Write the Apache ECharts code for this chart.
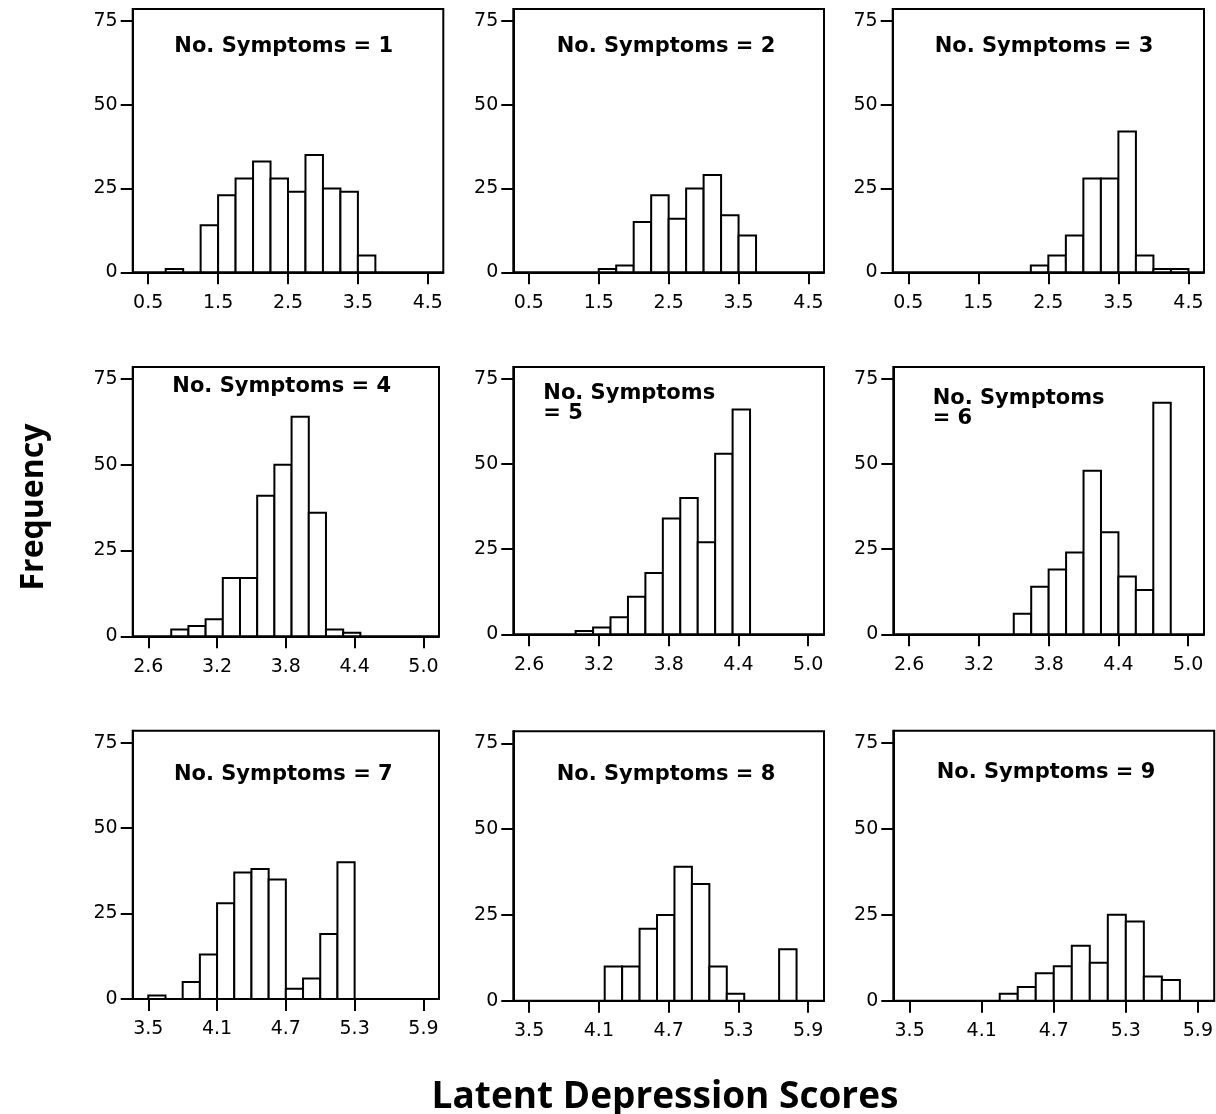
<!DOCTYPE html>
<html>
<head>
<meta charset="utf-8">
<script src="https://cdn.jsdelivr.net/npm/echarts@6/dist/echarts.min.js"></script>
<style>
  html, body { margin: 0; padding: 0; background: #fff; }
  #chart { width: 1216px; height: 1114px; }
</style>
</head>
<body>
<div id="chart"></div>
<script>
// Histogram of latent depression scores, one panel per number of symptoms.
// Each panel: first bin start, bin width, and counts per bin.
var panelTitles = [
  'No. Symptoms = 1', 'No. Symptoms = 2', 'No. Symptoms = 3',
  'No. Symptoms = 4', 'No. Symptoms\n= 5', 'No. Symptoms\n= 6',
  'No. Symptoms = 7', 'No. Symptoms = 8', 'No. Symptoms = 9'
];
var binStarts = [0.75, 1.5, 2.25, 2.8, 3.0, 3.5, 3.5, 4.15, 4.25];
var binWidths = [0.25, 0.25, 0.25, 0.15, 0.15, 0.15, 0.15, 0.15, 0.15];

var counts1 = [1, 0, 14, 23, 28, 33, 28, 24, 35, 25, 24, 5];
var counts2 = [1, 2, 15, 23, 16, 25, 29, 17, 11];
var counts3 = [2, 5, 11, 28, 28, 42, 5, 1, 1];
var counts4 = [2, 3, 5, 17, 17, 41, 50, 64, 36, 2, 1];
var counts5 = [1, 2, 5, 11, 18, 34, 40, 27, 53, 66];
var counts6 = [6, 14, 19, 24, 48, 30, 17, 13, 68];
var counts7 = [1, 0, 5, 13, 28, 37, 38, 35, 3, 6, 19, 40];
var counts8 = [10, 10, 21, 25, 39, 34, 10, 2, 0, 0, 15];
var counts9 = [2, 4, 8, 10, 16, 11, 25, 23, 7, 6];
var allCounts = [counts1, counts2, counts3, counts4, counts5, counts6, counts7, counts8, counts9];

// Tick labels on each row's x axis, and the shared frequency ticks.
var xTicksRow1 = [0.5, 1.5, 2.5, 3.5, 4.5];
var xTicksRow2 = [2.6, 3.2, 3.8, 4.4, 5.0];
var xTicksRow3 = [3.5, 4.1, 4.7, 5.3, 5.9];
var yTicks = [0, 25, 50, 75];

// Panel layout: frame edges in pixels [left, top, right, bottom].
var boxes = [
  [132.7, 9, 443.3, 272.3], [513.3, 9, 824, 272.3], [892.7, 9, 1204, 272.3],
  [132.7, 367, 439, 636.3], [513.3, 367, 824, 634.3], [893.3, 367, 1204, 634.3],
  [132.7, 730.7, 439, 999], [513.3, 731.3, 824, 1000.7], [893.3, 730.7, 1214.3, 1000.7]
];
var rowTicks = [xTicksRow1, xTicksRow2, xTicksRow3];
var rowPad = [0.222, 0.136, 0.136];
var yMax = 78.5;

// Title anchor positions and alignment.
var titleSpots = [
  [283.7, 47, 'center'], [666, 47, 'center'], [1044, 47, 'center'],
  [281.7, 387, 'center'], [543.3, 403.7, 'left'], [932.7, 408.7, 'left'],
  [283.3, 775, 'center'], [666, 775, 'center'], [1046, 773, 'center']
];

var tickFont = '"DejaVu Sans", sans-serif';
var grids = [], xAxes = [], yAxes = [], series = [], graphics = [];

for (var p = 0; p < 9; p++) {
  var b = boxes[p];
  var row = Math.floor(p / 3);
  var ticks = rowTicks[row];
  var pad = rowPad[row];
  grids.push({
    left: b[0], top: b[1], width: b[2] - b[0], height: b[3] - b[1],
    show: true, borderColor: '#000', borderWidth: 2, backgroundColor: 'transparent'
  });
  xAxes.push({
    type: 'value', gridIndex: p,
    min: ticks[0] - pad, max: ticks[ticks.length - 1] + pad,
    axisLine: { show: true, onZero: false, lineStyle: { color: '#000', width: 2 } },
    axisTick: { show: true, length: 12, customValues: ticks, lineStyle: { color: '#000', width: 2 } },
    axisLabel: {
      customValues: ticks, margin: 21, color: '#000', fontSize: 19, fontFamily: tickFont,
      formatter: function (v) { return Number(v).toFixed(1); }
    },
    splitLine: { show: false }
  });
  yAxes.push({
    type: 'value', gridIndex: p, min: 0, max: yMax,
    axisLine: { show: true, lineStyle: { color: '#000', width: 2 } },
    axisTick: { show: true, length: 12, customValues: yTicks, lineStyle: { color: '#000', width: 2 } },
    axisLabel: {
      customValues: yTicks, margin: 15, color: '#000', fontSize: 19, fontFamily: tickFont,
      formatter: function (v) { return String(Math.round(v)); }
    },
    splitLine: { show: false }
  });

  var data = allCounts[p].map(function (c, i) {
    var lo = binStarts[p] + i * binWidths[p];
    return [lo, lo + binWidths[p], c];
  });
  series.push({
    type: 'custom', xAxisIndex: p, yAxisIndex: p, data: data,
    encode: { x: [0, 1], y: 2 },
    silent: true,
    renderItem: function (params, api) {
      var n = api.value(2);
      if (!n) return null;
      var topLeft = api.coord([api.value(0), n]);
      var botRight = api.coord([api.value(1), 0]);
      return {
        type: 'rect',
        shape: { x: topLeft[0], y: topLeft[1], width: botRight[0] - topLeft[0], height: botRight[1] - topLeft[1] },
        style: { fill: '#fff', stroke: '#000', lineWidth: 2 }
      };
    }
  });

  var t = titleSpots[p];
  graphics.push({
    type: 'text', x: t[0], y: t[1], z: 10,
    style: {
      text: panelTitles[p], fill: '#000', align: t[2], verticalAlign: 'middle',
      font: 'bold 21px "DejaVu Sans", sans-serif', lineHeight: 20
    }
  });
}

// Shared axis titles.
graphics.push({
  type: 'text', x: 34, y: 507, rotation: Math.PI / 2, z: 10,
  style: {
    text: 'Frequency', fill: '#000', align: 'center', verticalAlign: 'middle',
    font: 'bold 32px "Open Sans", sans-serif'
  }
});
graphics.push({
  type: 'text', x: 665, y: 1097, z: 10,
  style: {
    text: 'Latent Depression Scores', fill: '#000', align: 'center', verticalAlign: 'middle',
    font: 'bold 37px "Open Sans", sans-serif'
  }
});

var chart = echarts.init(document.getElementById('chart'), null, { renderer: 'canvas' });
chart.setOption({
  animation: false,
  backgroundColor: '#fff',
  grid: grids,
  xAxis: xAxes,
  yAxis: yAxes,
  series: series,
  graphic: graphics
});
</script>
</body>
</html>
